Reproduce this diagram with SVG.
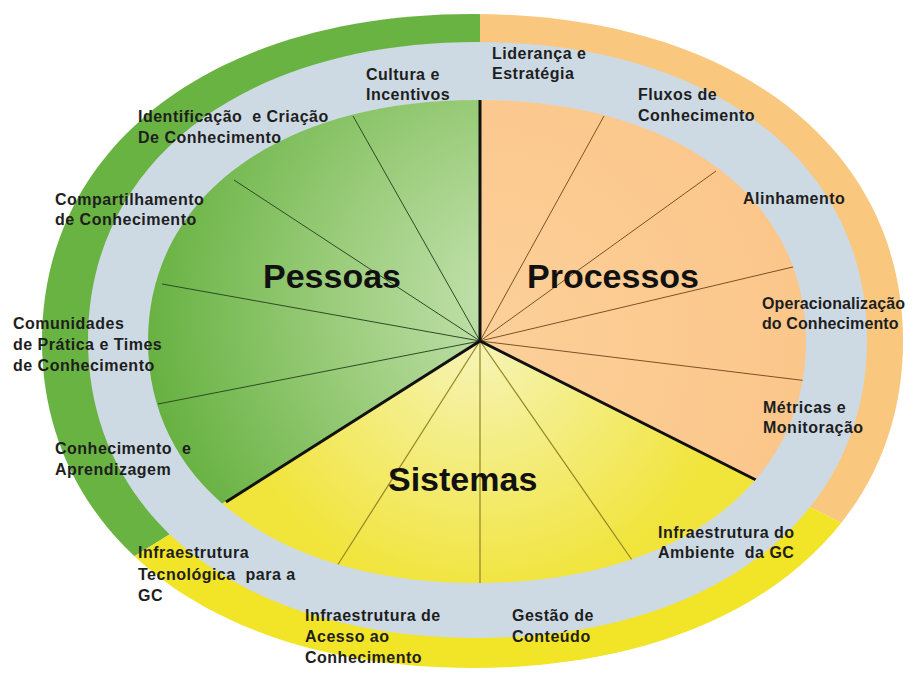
<svg xmlns="http://www.w3.org/2000/svg" width="915" height="675" viewBox="0 0 915 675">
  <defs>
    <style>
      .lbl { font-family: "Liberation Sans", Arial, sans-serif; font-size: 16px; font-weight: bold; letter-spacing: 0.5px; fill: #1e1e1e; }
      .tight { letter-spacing: 0.1px; }
      .big { font-family: "Liberation Sans", Arial, sans-serif; font-size: 34px; font-weight: bold; fill: #111; }
      .thinP { stroke: #2e4a26; stroke-width: 1; fill: none; }
      .thinO { stroke: #7a5226; stroke-width: 1; fill: none; }
      .thinS { stroke: #9a8a2c; stroke-width: 1.3; fill: none; }
      .thick { stroke: #111; stroke-width: 3; fill: none; }
    </style>
    <clipPath id="outerClip">
      <path d="M42,341 C42,144.8 214.2,14 472.5,14 C730.8,14 903,144.8 903,341 C903,537.2 730.8,668 472.5,668 C214.2,668 42,537.2 42,341Z"/>
    </clipPath>
    <clipPath id="innerClip">
      <path d="M148,341.5 C148,196.6 279.6,100 477,100 C674.4,100 806,196.6 806,341.5 C806,486.4 674.4,583 477,583 C279.6,583 148,486.4 148,341.5Z"/>
    </clipPath>
    <radialGradient id="gPessoas" gradientUnits="userSpaceOnUse" cx="520" cy="300" r="380">
      <stop offset="0" stop-color="#c8e4b4"/>
      <stop offset="0.5" stop-color="#9acc7a"/>
      <stop offset="1" stop-color="#66b140"/>
    </radialGradient>
    <radialGradient id="gSistemas" gradientUnits="userSpaceOnUse" cx="480" cy="341" r="260">
      <stop offset="0" stop-color="#f6f4b8"/>
      <stop offset="1" stop-color="#f1e43a"/>
    </radialGradient>
    <radialGradient id="gProcessos" gradientUnits="userSpaceOnUse" cx="480" cy="341" r="330">
      <stop offset="0" stop-color="#fcd09a"/>
      <stop offset="1" stop-color="#fbc68a"/>
    </radialGradient>
  </defs>

  <rect x="0" y="0" width="915" height="675" fill="#ffffff"/>

  <!-- outer coloured band -->
  <g id="outer-band" clip-path="url(#outerClip)">
    <polygon points="480,341 480,0 0,0 0,640" fill="#69b342"/>
    <polygon points="480,341 480,0 915,0 915,560" fill="#f9c77e"/>
    <polygon points="480,341 0,640 0,675 915,675 915,560" fill="#f2e426"/>
  </g>

  <!-- grey ring -->
  <path id="grey-ring" d="M88,340 C88,161.2 243.8,42 477.5,42 C711.2,42 867,161.2 867,340 C867,518.8 711.2,638 477.5,638 C243.8,638 88,518.8 88,340Z" fill="#cddae4"/>

  <!-- inner pie sectors -->
  <g id="pie" clip-path="url(#innerClip)">
    <g id="sector-pessoas">
      <polygon points="480,341 480,0 0,0 0,644" fill="url(#gPessoas)"/>
    </g>
    <g id="sector-processos">
      <polygon points="480,341 480,0 915,0 915,560" fill="url(#gProcessos)"/>
    </g>
    <g id="sector-sistemas">
      <polygon points="480,341 0,644 0,675 915,675 915,560" fill="url(#gSistemas)"/>
    </g>
    <g id="dividers">
      <path class="thinP" d="M480,341 L353,116 M480,341 L234,180 M480,341 L162,284 M480,341 L158,404"/>
      <path class="thinO" d="M480,341 L604,116 M480,341 L716,171 M480,341 L797,266 M480,341 L808,381"/>
      <path class="thinS" d="M480,341 L632,560 M480,341 L480,590 M480,341 L337,566"/>
      <path class="thick" d="M480,341 L480,95 M480,341 L226,502 M480,341 L756,480"/>
    </g>
  </g>

  <!-- sector titles -->
  <g id="titles">
    <text class="big" x="263" y="288">Pessoas</text>
    <text class="big" x="527" y="288">Processos</text>
    <text class="big" x="388" y="491">Sistemas</text>
  </g>

  <!-- labels -->
  <g id="label-cultura">
    <text class="lbl" x="366" y="80">Cultura e</text>
    <text class="lbl" x="366" y="100">Incentivos</text>
  </g>
  <g id="label-lideranca">
    <text class="lbl" x="492" y="59">Liderança e</text>
    <text class="lbl" x="492" y="79">Estratégia</text>
  </g>
  <g id="label-identificacao">
    <text class="lbl" x="138" y="122" xml:space="preserve">Identificação  e Criação</text>
    <text class="lbl" x="138" y="143">De Conhecimento</text>
  </g>
  <g id="label-compartilhamento">
    <text class="lbl" x="55" y="205">Compartilhamento</text>
    <text class="lbl" x="55" y="225">de Conhecimento</text>
  </g>
  <g id="label-comunidades">
    <text class="lbl" x="13" y="329">Comunidades</text>
    <text class="lbl" x="13" y="350">de Prática e Times</text>
    <text class="lbl" x="13" y="371">de Conhecimento</text>
  </g>
  <g id="label-aprendizagem">
    <text class="lbl" x="55" y="454" xml:space="preserve">Conhecimento  e</text>
    <text class="lbl" x="55" y="475">Aprendizagem</text>
  </g>
  <g id="label-fluxos">
    <text class="lbl" x="638" y="100">Fluxos de</text>
    <text class="lbl" x="638" y="121">Conhecimento</text>
  </g>
  <g id="label-alinhamento">
    <text class="lbl" x="743" y="204">Alinhamento</text>
  </g>
  <g id="label-operacionalizacao">
    <text class="lbl tight" x="762" y="309">Operacionalização</text>
    <text class="lbl tight" x="762" y="329">do Conhecimento</text>
  </g>
  <g id="label-metricas">
    <text class="lbl" x="763" y="413">Métricas e</text>
    <text class="lbl" x="763" y="433">Monitoração</text>
  </g>
  <g id="label-infra-ambiente">
    <text class="lbl" x="658" y="538">Infraestrutura do</text>
    <text class="lbl" x="658" y="558" xml:space="preserve">Ambiente  da GC</text>
  </g>
  <g id="label-gestao">
    <text class="lbl" x="512" y="621">Gestão de</text>
    <text class="lbl" x="512" y="642">Conteúdo</text>
  </g>
  <g id="label-infra-acesso">
    <text class="lbl" x="305" y="621">Infraestrutura de</text>
    <text class="lbl" x="305" y="642">Acesso ao</text>
    <text class="lbl" x="305" y="663">Conhecimento</text>
  </g>
  <g id="label-infra-tecnologica">
    <text class="lbl" x="138" y="558">Infraestrutura</text>
    <text class="lbl" x="138" y="580" xml:space="preserve">Tecnológica  para a</text>
    <text class="lbl" x="138" y="601">GC</text>
  </g>
</svg>
